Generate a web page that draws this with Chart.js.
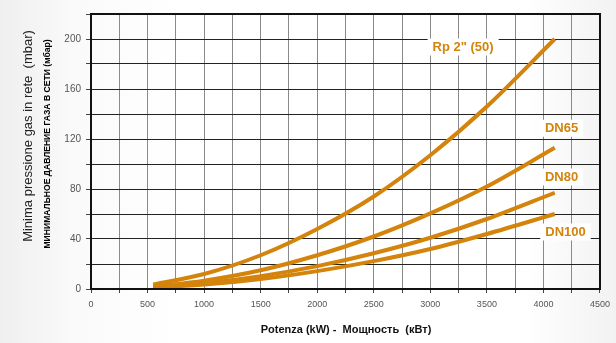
<!DOCTYPE html>
<html>
<head>
<meta charset="utf-8">
<script src="https://cdn.jsdelivr.net/npm/chart.js@4.4.0/dist/chart.umd.min.js"></script>
<style>
html,body{margin:0;padding:0;}
body{width:616px;height:343px;background:linear-gradient(90deg,#efefef 0%,#fafafa 12%,#ffffff 30%,#ffffff 85%,#f2f2f2 100%);overflow:hidden;}
#wrap{position:relative;width:616px;height:343px;}
</style>
</head>
<body>
<div id="wrap"><canvas id="c" width="616" height="343"></canvas></div>
<script>
// ---- data ----
const powerKW = [550, 1000, 1500, 2000, 2500, 3000, 3500, 4100];
const rp2_50 = [3.6, 12, 27, 48, 74, 107, 146, 200];
const dn65   = [2.0, 6.7, 15, 27, 42, 60.5, 82, 113];
const dn80   = [1.4, 4.6, 10.3, 18.3, 28.6, 41, 56, 77];
const dn100  = [1.1, 3.6, 8.0, 14.3, 22.3, 32, 44, 60];
const seriesNames = ['Rp 2" (50)', 'DN65', 'DN80', 'DN100'];
const seriesValues = [rp2_50, dn65, dn80, dn100];
const xTickLabels = [0, 500, 1000, 1500, 2000, 2500, 3000, 3500, 4000, 4500];
const yTickLabels = [0, 40, 80, 120, 160, 200];
const yTitleIt = 'Minima pressione gas in rete  (mbar)';
const yTitleRu = 'МИНИМАЛЬНОЕ ДАВЛЕНИЕ ГАЗА В СЕТИ (мбар)';
const xTitle = 'Potenza (kW) -  Мощность  (кВт)';
// label anchors in data units (kW, mbar)
const labelAnchors = [[3290, 194], [4160, 129], [4160, 90], [4195, 46]];

const ORANGE = '#D4830B';
const FONT = '"Liberation Sans", Arial, sans-serif';

const datasets = seriesValues.map((vals, i) => ({
  label: seriesNames[i],
  data: powerKW.map((x, j) => ({x: x, y: vals[j]})),
  borderColor: ORANGE,
  backgroundColor: ORANGE,
  borderWidth: 4,
  pointRadius: 0,
  cubicInterpolationMode: 'monotone',
  borderCapStyle: 'butt'
}));

const decor = {
  id: 'decor',
  afterDatasetsDraw(chart) {
    const {ctx, chartArea: a, scales: {x, y}} = chart;
    ctx.save();
    ctx.strokeStyle = '#111';
    ctx.lineWidth = 2;
    ctx.strokeRect(a.left, a.top, a.right - a.left, a.bottom - a.top);
    ctx.font = 'bold 13px ' + FONT;
    ctx.textAlign = 'center';
    ctx.textBaseline = 'middle';
    seriesNames.forEach((n, i) => {
      const px = x.getPixelForValue(labelAnchors[i][0]);
      const py = y.getPixelForValue(labelAnchors[i][1]);
      const w = ctx.measureText(n).width + 10;
      ctx.fillStyle = '#fff';
      ctx.fillRect(px - w / 2, py - 8, w, 17);
      ctx.fillStyle = ORANGE;
      ctx.fillText(n, px, py + 1);
    });
    ctx.restore();
  },
  afterDraw(chart) {
    const {ctx} = chart;
    ctx.save();
    ctx.textAlign = 'center';
    ctx.textBaseline = 'middle';
    ctx.translate(28, 136);
    ctx.rotate(-Math.PI / 2);
    ctx.fillStyle = '#222';
    ctx.font = '13px ' + FONT;
    ctx.fillText(yTitleIt, 0, 0);
    ctx.restore();
    ctx.save();
    ctx.textAlign = 'center';
    ctx.textBaseline = 'middle';
    ctx.translate(48, 144);
    ctx.rotate(-Math.PI / 2);
    ctx.fillStyle = '#000';
    ctx.font = 'bold 8.6px ' + FONT;
    ctx.fillText(yTitleRu, 0, 0);
    ctx.restore();
    ctx.save();
    ctx.textAlign = 'center';
    ctx.textBaseline = 'middle';
    ctx.fillStyle = '#111';
    ctx.font = 'bold 11px ' + FONT;
    ctx.fillText(xTitle, 346, 330);
    ctx.restore();
  }
};

new Chart(document.getElementById('c'), {
  type: 'line',
  data: {datasets},
  options: {
    responsive: false,
    animation: false,
    layout: {padding: {top: 14, right: 11, left: 0, bottom: 0}},
    plugins: {legend: {display: false}, tooltip: {enabled: false}},
    scales: {
      x: {
        type: 'linear', min: 0, max: 4500,
        afterFit(s) { s.height = 54; },
        ticks: {
          stepSize: 250, autoSkip: false, maxRotation: 0, padding: 6,
          color: '#555', font: {family: FONT, size: 9},
          callback: v => xTickLabels.includes(v) ? String(v) : ''
        },
        grid: {color: '#8a8a8a', lineWidth: 1, tickLength: 4, tickColor: '#444'},
        border: {color: '#111', width: 2}
      },
      y: {
        type: 'linear', min: 0, max: 220,
        afterFit(s) { s.width = 91; },
        ticks: {
          stepSize: 20, autoSkip: false, padding: 5,
          color: '#555', font: {family: FONT, size: 10},
          callback: v => yTickLabels.includes(v) ? String(v) : ''
        },
        grid: {color: '#222', lineWidth: 1, tickLength: 5, tickColor: '#444'},
        border: {color: '#111', width: 2}
      }
    }
  },
  plugins: [decor]
});
</script>
</body>
</html>
